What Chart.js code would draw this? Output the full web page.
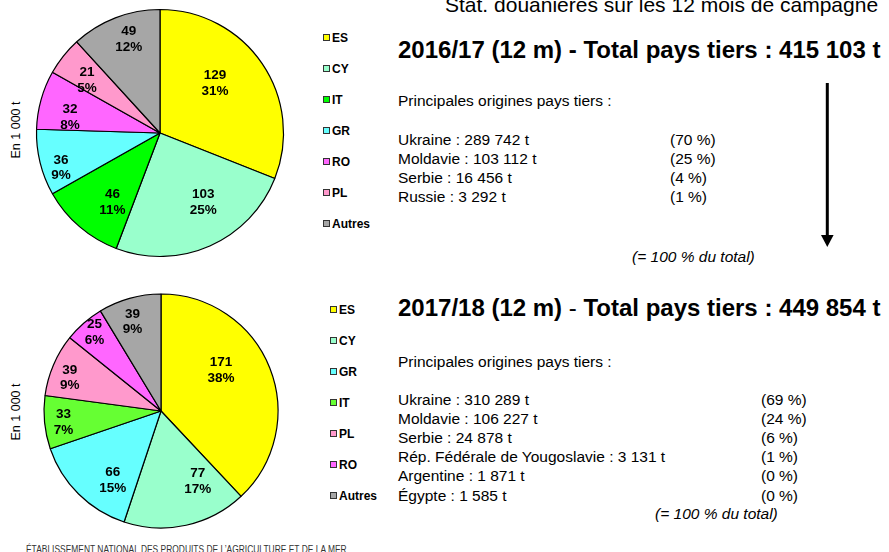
<!DOCTYPE html>
<html lang="fr">
<head>
<meta charset="utf-8">
<script src="https://cdn.jsdelivr.net/npm/chart.js@4.4.1/dist/chart.umd.min.js"></script>
<style>
  body { margin: 0; width: 889px; height: 552px; overflow: hidden; background: #fff; position: relative;
         font-family: "Liberation Sans", Arial, sans-serif; color: #000; }
  .abs { position: absolute; white-space: pre; }
  canvas { position: absolute; }
  .unit { position: absolute; font-size: 12.5px; line-height: 14px; width: 80px; text-align: center; transform: rotate(-90deg); }
  .legend { position: absolute; font-weight: bold; font-size: 12px; }
  .legend div { position: absolute; left: 0; line-height: 14px; white-space: pre; }
  .legend span { display: inline-block; width: 5px; height: 5px; border: 1px solid #333; margin-right: 2px; vertical-align: 1px; }
  .title { font-size: 24px; font-weight: bold; line-height: 28px; }
  .txt { font-size: 15.5px; line-height: 18px; }
</style>
</head>
<body>

<div class="abs" style="left:445px; top:-8px; font-size:21px; line-height:26px;">Stat. douanières sur les 12 mois de campagne</div>

<canvas id="pie1" width="260" height="260" style="left:30px; top:3px;"></canvas>
<canvas id="pie2" width="260" height="260" style="left:31px; top:281px;"></canvas>

<div class="unit" style="left:-24px; top:123px;">En 1 000 t</div>
<div class="unit" style="left:-24px; top:405px;">En 1 000 t</div>

<div class="legend" id="legend1" style="left:323px; top:31px;"></div>
<div class="legend" id="legend2" style="left:330px; top:303px;"></div>

<div class="abs title" style="left:398px; top:36px;">2016/17 (12 m) - Total pays tiers : 415 103 t</div>
<div class="abs title" style="left:398px; top:294px;">2017/18 (12 m)<span style="font-weight:normal"> - </span>Total pays tiers : 449 854 t</div>

<div id="block1"></div>
<div id="block2"></div>

<svg class="abs" style="left:815px; top:80px;" width="25" height="172">
  <line x1="12.3" y1="3" x2="12.3" y2="158" stroke="#000" stroke-width="3"/>
  <polygon points="6,155 18.6,155 12.3,167" fill="#000"/>
</svg>

<div class="abs" id="footer" style="left:26px; top:543px; font-size:11px; line-height:13px; color:#333; transform-origin:0 0;">ÉTABLISSEMENT NATIONAL DES PRODUITS DE L’AGRICULTURE ET DE LA MER</div>

<script>
// 2016/17 imports by origin (1 000 t)
const cats1 = ['ES', 'CY', 'IT', 'GR', 'RO', 'PL', 'Autres'];
const vals1 = [129, 103, 46, 36, 32, 21, 49];
const cols1 = ['#FFFF00', '#99FFCC', '#00FF00', '#66FFFF', '#FF66FF', '#FF99CC', '#A6A6A6'];

// 2017/18 imports by origin (1 000 t)
const cats2 = ['ES', 'CY', 'GR', 'IT', 'PL', 'RO', 'Autres'];
const vals2 = [171, 77, 66, 33, 39, 25, 39];
const cols2 = ['#FFFF00', '#99FFCC', '#66FFFF', '#66FF33', '#FF99CC', '#FF66FF', '#A6A6A6'];

// main third-country origins (t)
const origins1 = ['Ukraine', 'Moldavie', 'Serbie', 'Russie'];
const tonnes1 = [289742, 103112, 16456, 3292];
const total1 = 415103;

const origins2 = ['Ukraine', 'Moldavie', 'Serbie', 'Rép. Fédérale de Yougoslavie', 'Argentine', 'Égypte'];
const tonnes2 = [310289, 106227, 24878, 3131, 1871, 1585];
const total2 = 449854;

// where the slice labels sit: share of radius, and turn from the mid angle (deg)
const labelDist1 = [0.60, 0.66, 0.68, 0.85, 0.74, 0.73, 0.80];
const labelTurn1 = [-7.8, -8.2, -6.2, -5.6, -5.6, -2.7, 2.7];
const labelDist2 = [0.62, 0.68, 0.72, 0.84, 0.83, 0.88, 0.80];
const labelTurn2 = [-12.5, -15.2, -9.8, -1.1, -3.3, 1, -2.1];

function fmt(n) {
    return String(n).replace(/\B(?=(\d{3})+(?!\d))/g, ' ');
}

const sliceLabels = {
    id: 'sliceLabels',
    afterDatasetsDraw(chart, args, opts) {
        const ctx = chart.ctx;
        const ds = chart.data.datasets[0];
        const total = ds.data.reduce((a, b) => a + b, 0);
        ctx.save();
        ctx.font = 'bold 13.5px "Liberation Sans", Arial, sans-serif';
        ctx.textAlign = 'center';
        ctx.textBaseline = 'middle';
        ctx.fillStyle = '#000';
        chart.getDatasetMeta(0).data.forEach(function (arc, i) {
            const p = arc.getProps(['x', 'y', 'startAngle', 'endAngle', 'outerRadius'], true);
            const a = (p.startAngle + p.endAngle) / 2 + opts.turn[i] * Math.PI / 180;
            const r = p.outerRadius * opts.dist[i];
            const x = p.x + Math.cos(a) * r;
            const y = p.y + Math.sin(a) * r;
            ctx.fillText(String(ds.data[i]), x, y - 7.8);
            ctx.fillText(Math.round(ds.data[i] / total * 100) + '%', x, y + 7.8);
        });
        ctx.restore();
    }
};

function makePie(id, legendId, cats, vals, cols, dist, turn, radius) {
    const chart = new Chart(document.getElementById(id), {
        type: 'pie',
        data: {
            labels: cats,
            datasets: [{
                data: vals,
                backgroundColor: cols,
                borderColor: '#000',
                borderWidth: 1.2,
                hoverOffset: 0
            }]
        },
        options: {
            responsive: false,
            animation: false,
            events: [],
            radius: radius,
            layout: { padding: 0 },
            plugins: {
                legend: { display: false },
                tooltip: { enabled: false },
                sliceLabels: { dist: dist, turn: turn }
            }
        },
        plugins: [sliceLabels]
    });

    // side legend built from the chart's own legend items
    const box = document.getElementById(legendId);
    const items = chart.options.plugins.legend.labels.generateLabels(chart);
    items.forEach(function (it, i) {
        const row = document.createElement('div');
        row.style.top = (i * 31) + 'px';
        row.innerHTML = '<span style="background:' + it.fillStyle + '"></span>' + it.text;
        box.appendChild(row);
    });
    return chart;
}

makePie('pie1', 'legend1', cats1, vals1, cols1, labelDist1, labelTurn1, 123.5);
makePie('pie2', 'legend2', cats2, vals2, cols2, labelDist2, labelTurn2, 117);

function textBlock(id, headY, firstY, step, names, tonnes, total, pctX, noteX, noteY) {
    const el = document.getElementById(id);
    let html = '<div class="abs txt" style="left:398px; top:' + (headY - 9) + 'px;">Principales origines pays tiers :</div>';
    names.forEach(function (n, i) {
        const y = firstY + i * step - 9;
        html += '<div class="abs txt" style="left:398px; top:' + y + 'px;">' + n + ' : ' + fmt(tonnes[i]) + ' t</div>';
        html += '<div class="abs txt" style="left:' + pctX + 'px; top:' + y + 'px;">(' + Math.round(tonnes[i] / total * 100) + ' %)</div>';
    });
    html += '<div class="abs txt" style="left:' + noteX + 'px; top:' + (noteY - 9) + 'px; font-style:italic;">(= 100 % du total)</div>';
    el.innerHTML = html;
}

textBlock('block1', 100.5, 140, 18.9, origins1, tonnes1, total1, 670, 632, 256.7);
textBlock('block2', 361.7, 400, 19.1, origins2, tonnes2, total2, 761, 655, 514.2);

// squeeze the footer into its width
const foot = document.getElementById('footer');
foot.style.transform = 'scaleX(' + (321 / foot.offsetWidth) + ')';
</script>
</body>
</html>
